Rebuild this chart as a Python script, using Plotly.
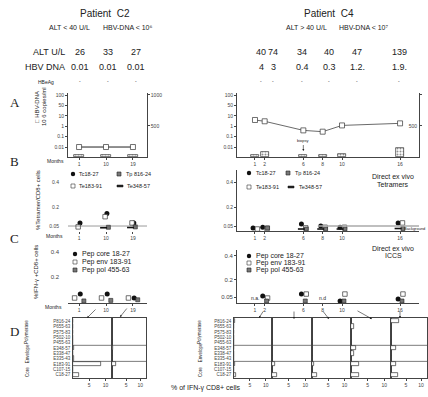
import plotly.graph_objects as go

W, H = 428, 397
FONT = "Liberation Sans, Arial, sans-serif"
SERIF = "Liberation Serif, Times New Roman, serif"
INK = "#222"

# ---------------- data ----------------
c2_months = [1, 10, 19]
c2_alt = [26, 33, 27]
c2_dna = [0.01, 0.01, 0.01]
c2_dna_text = ["0.01", "0.01", "0.01"]
c2_hbeag = ["-", "-", "-"]

c4_months = [1, 2, 6, 8, 10, 16]
c4_alt = [40, 74, 34, 40, 47, 139]
c4_dna = [4, 3, 0.4, 0.3, 1.2, 1.9]
c4_dna_text = ["4", "3", "0.4", "0.3", "1.2.", "1.9."]
c4_hbeag = ["-", "-", "-", "-", "-", "-"]

dna_tickvals = [0.01, 0.1, 1, 10, 100, 1000]
dna_ticktext = ["0.01", "0.1", "1", "10", "50", "100"]

# B: tetramer staining (% tetramer+/CD8+)
c2_tc18 = [0.075, 0.15, 0.075]
c2_te183 = [0.043, 0.125, 0.075]
c2_tp816 = [None, 0.04, 0.043]
c2_te348 = [None, 0.036, 0.038]
c4_tc18 = [0.035, 0.04, 0.067, 0.05, 0.04, 0.075]
c4_te183 = [0.026, 0.03, 0.035, 0.04, 0.04, 0.075]
c4_tp816 = [None, 0.035, 0.026, 0.026, 0.026, 0.03]
c4_te348 = [None, None, 0.026, 0.026, 0.026, 0.03]
background_level = 0.05

# C: ICCS (% IFN-g+ CD8+)
c2_core = [0.07, 0.07, 0.039]
c2_env = [0.039, 0.039, 0.039]
c2_pol = [0.016, 0.02, 0.025]
c4_core = [None, 0.059, 0.076, None, 0.017, 0.034]
c4_env = [None, 0.042, 0.076, None, 0.076, 0.076]
c4_pol = [None, 0.017, 0.017, None, 0.017, 0.017]
c4_iccs_note = ["n.a.", "", "", "n.d", "", ""]

# D: % IFN-g CD8+ cells per peptide
d_rows = ["P816-24", "P655-63", "P575-83", "P502-10", "P455-63",
          "E348-57", "E338-47", "E335-43", "E183-91", "C107-15", "C18-27"]
d_c2 = {
    10: [0, 0, 0, 0, 0, 0.4, 0, 0.4, 8.5, 0, 1.7],
    19: [0, 0, 0, 0, 0, 0.5, 0, 0, 1.5, 0, 0],
}
d_c4 = {
    2: [0.3, 0, 0, 0, 0, 0, 0, 0, 0.4, 0, 0.5],
    6: [0, 0, 0, 0, 0, 0, 0, 0, 0.9, 0, 1.6],
    8: [0, 0, 0, 0, 0, 0, 0, 0, 0.7, 0, 1.6],
    10: [0, 0.8, 0, 0, 0, 1.4, 1.0, 0, 2.4, 0, 2.4],
    16: [2.6, 0, 0, 0, 0, 1.6, 0, 0, 1.6, 0, 2.3],
}
d_groups = [("Polymerase", 8), ("Envelope", 4), ("Core", 0.5)]

# header column pixel positions (layout only)
c2_header_px = [80, 108, 136]
c4_header_px = [261, 273, 302, 329, 357, 399]


def fx(px):
    return px / W


def fy(py):
    return 1 - py / H


base = dict(showgrid=False, zeroline=False, showline=True, linecolor="#444",
            linewidth=0.7, ticks="outside", ticklen=2, tickwidth=0.6,
            tickcolor="#444", tickfont=dict(size=5, color="#444", family=FONT))


def ax(**kw):
    d = dict(base)
    d.update(kw)
    return d


XL = [fx(68), fx(147)]
XR = [fx(237), fx(419)]
XL_RANGE = [-2.7, 23.7]
XR_RANGE = [-0.86, 17.96]

layout = dict(width=W, height=H, margin=dict(l=0, r=0, t=0, b=0),
              paper_bgcolor="white", plot_bgcolor="rgba(0,0,0,0)",
              showlegend=False, font=dict(family=FONT, color=INK),
              bargap=0)

# A axes
ya_dom = [fy(157), fy(93)]
layout["xaxis"] = ax(domain=XL, range=XL_RANGE, anchor="y", tickvals=c2_months)
layout["yaxis"] = ax(domain=ya_dom, type="log", range=[-2.96, 3.2], anchor="x",
                     tickvals=dna_tickvals, ticktext=dna_ticktext)
layout["yaxis2"] = ax(overlaying="y", side="right", anchor="x", range=[0, 1032],
                      tickvals=[500, 1000], ticktext=["500", "1000"])
layout["xaxis2"] = ax(domain=XR, range=XR_RANGE, anchor="y3", tickvals=c4_months)
layout["yaxis3"] = ax(domain=ya_dom, type="log", range=[-2.96, 3.2], anchor="x2",
                      tickvals=dna_tickvals, ticktext=dna_ticktext)
layout["yaxis4"] = ax(overlaying="y3", side="right", anchor="x2", range=[0, 1032],
                      tickvals=[500, 1000], ticktext=["500", "1000"],
                      ticklabelposition="inside")
# B axes
yb_dom = [fy(231), fy(170)]
layout["xaxis3"] = ax(domain=XL, range=XL_RANGE, anchor="y5", tickvals=c2_months,
                      showline=False)
layout["yaxis5"] = ax(domain=yb_dom, range=[0.01, 0.5], anchor="x3",
                      tickvals=[0.05, 0.2, 0.4], ticktext=["0.05", "0.2", "0.4"],
                      showline=False, ticks="", ticklabelstandoff=8)
layout["xaxis4"] = ax(domain=XR, range=XR_RANGE, anchor="y6", tickvals=c4_months)
layout["yaxis6"] = ax(domain=yb_dom, range=[0.01, 0.5], anchor="x4",
                      tickvals=[0.05, 0.2, 0.4], ticktext=["0.05", "0.2", "0.4"])
# C axes
layout["xaxis5"] = ax(domain=XL, range=XL_RANGE, anchor="y7", tickvals=c2_months)
layout["yaxis7"] = ax(domain=[fy(303), fy(245)], range=[0, 0.45], anchor="x5",
                      tickvals=[0.2, 0.4], showline=False, ticks="",
                      ticklabelstandoff=8, tickfont=dict(size=6, color="#444", family=FONT))
layout["xaxis6"] = ax(domain=XR, range=XR_RANGE, anchor="y8", tickvals=c4_months)
layout["yaxis8"] = ax(domain=[fy(303), fy(250)], range=[0, 0.45], anchor="x6",
                      tickvals=[0.05, 0.2, 0.4], ticktext=["0.05", "0.2", "0.4"],
                      tickfont=dict(size=6, color="#444", family=FONT))

# D axes
d_panels = [(d_c2[10], 73, 112), (d_c2[19], 112, 146),
            (d_c4[2], 234, 272), (d_c4[6], 272, 312), (d_c4[8], 312, 351),
            (d_c4[10], 351, 391), (d_c4[16], 391, 427)]
yd_dom = [fy(378), fy(318)]
cat_order = list(reversed(d_rows))

traces = []
shapes = []
annotations = []

for i, (vals, x0, x1) in enumerate(d_panels):
    xn = 7 + i
    yn = 9 + i
    show_lbl = i in (0, 2)
    layout[f"xaxis{xn}"] = ax(domain=[fx(x0), fx(x1)], range=[0, 12], anchor=f"y{yn}",
                              tickvals=[5, 10], ticktext=["5", "10"], mirror=True,
                              tickfont=dict(size=5, color="#444", family=FONT))
    layout[f"yaxis{yn}"] = ax(domain=yd_dom, type="category", categoryorder="array",
                              categoryarray=cat_order, range=[-0.6, 10.6],
                              anchor=f"x{xn}", mirror=True, ticks="",
                              showticklabels=show_lbl,
                              tickfont=dict(size=4.5, color="#444", family=FONT),
                              ticklabelstandoff=1)
    traces.append(go.Bar(x=vals, y=d_rows, orientation="h", xaxis=f"x{xn}", yaxis=f"y{yn}",
                         width=0.85, marker=dict(color="white", line=dict(color="#333", width=0.7)),
                         hoverinfo="x+y"))
    for ysep in (2.5, 5.5):
        shapes.append(dict(type="line", xref=f"x{xn} domain", yref=f"y{yn}", x0=0, x1=1,
                           y0=ysep, y1=ysep, line=dict(color="#444", width=0.7)))

# A traces
bar_pattern = dict(shape=".", fgcolor="#222", bgcolor="white", size=3, solidity=0.35)
traces.append(go.Bar(x=c2_months, y=c2_alt, xaxis="x", yaxis="y2", width=3.3,
                     marker=dict(color="white", line=dict(color="#333", width=0.7),
                                 pattern=bar_pattern)))
traces.append(go.Scatter(x=c2_months, y=c2_dna, xaxis="x", yaxis="y", mode="lines+markers",
                         line=dict(color="#222", width=1),
                         marker=dict(symbol="square", size=5, color="white",
                                     line=dict(color="#333", width=0.7))))
traces.append(go.Bar(x=c4_months, y=c4_alt, xaxis="x2", yaxis="y4", width=0.85,
                     marker=dict(color="white", line=dict(color="#333", width=0.7),
                                 pattern=bar_pattern)))
traces.append(go.Scatter(x=c4_months, y=c4_dna, xaxis="x2", yaxis="y3", mode="lines+markers",
                         line=dict(color="#444", width=0.8),
                         marker=dict(symbol="square", size=5, color="white",
                                     line=dict(color="#333", width=0.7))))


def pts(months, vals, off):
    xs = [m + off for m, v in zip(months, vals) if v is not None]
    ys = [v for v in vals if v is not None]
    return xs, ys


m_filled = dict(symbol="circle", size=5, color="#111")
m_open = dict(symbol="square", size=4.5, color="white", line=dict(color="#333", width=0.7))
m_hatch = dict(symbol="square", size=4, color="#777", line=dict(color="#222", width=0.6))
m_dash = dict(symbol="line-ew", size=5, color="#111", line=dict(color="#111", width=1.6))


def add_series(months, vals, off, marker, xa, ya):
    xs, ys = pts(months, vals, off)
    traces.append(go.Scatter(x=xs, y=ys, xaxis=xa, yaxis=ya, mode="markers", marker=marker))


# B
add_series(c2_months, c2_tc18, 0.3, m_filled, "x3", "y5")
add_series(c2_months, c2_te183, -0.3, m_open, "x3", "y5")
add_series(c2_months, c2_tp816, 0.8, m_hatch, "x3", "y5")
add_series(c2_months, c2_te348, -0.8, m_dash, "x3", "y5")
add_series(c4_months, c4_tc18, -0.2, m_filled, "x4", "y6")
add_series(c4_months, c4_te183, 0.25, m_open, "x4", "y6")
add_series(c4_months, c4_tp816, 0.3, m_hatch, "x4", "y6")
add_series(c4_months, c4_te348, -0.2, m_dash, "x4", "y6")
# C
add_series(c2_months, c2_core, 0.4, m_filled, "x5", "y7")
add_series(c2_months, c2_env, -1.5, m_open, "x5", "y7")
add_series(c2_months, c2_pol, 1.6, m_hatch, "x5", "y7")
add_series(c4_months, c4_core, -0.2, m_filled, "x6", "y8")
add_series(c4_months, c4_env, 0.3, m_open, "x6", "y8")
add_series(c4_months, c4_pol, 0.2, m_hatch, "x6", "y8")

# background lines in B
shapes.append(dict(type="line", xref="x3 domain", yref="y5", x0=0, x1=1,
                   y0=background_level, y1=background_level, line=dict(color="#555", width=0.6)))
shapes.append(dict(type="line", xref="x4", yref="y6", x0=7.5, x1=XR_RANGE[1] + 0.6,
                   y0=background_level, y1=background_level, line=dict(color="#aaa", width=1.5)))


def ann(text, x, y, size=6, xanchor="center", family=FONT, **kw):
    d = dict(text=text, x=fx(x), y=fy(y), xref="paper", yref="paper", showarrow=False,
             xanchor=xanchor, yanchor="middle", font=dict(size=size, family=family, color=INK))
    d.update(kw)
    annotations.append(d)


# titles
ann("Patient  C2", 105, 14, 10)
ann("ALT < 40 U/L", 69, 27, 7)
ann("HBV-DNA < 10\u2076", 128, 27, 7)
ann("Patient  C4", 329, 14, 10)
ann("ALT > 40 U/L", 306, 27, 7)
ann("HBV-DNA < 10\u2077", 363, 27, 7)
ann("ALT U/L", 67, 52, 9, xanchor="right")
ann("HBV DNA", 67, 67, 9, xanchor="right")
ann("HBeAg", 46, 82, 5)


def row_vals(texts, xs_px, y, size):
    for t, xp in zip(texts, xs_px):
        if str(t) == "":
            continue
        ann(str(t), xp, y, size)


row_vals(c2_alt, c2_header_px, 52, 9)
row_vals(c2_dna_text, c2_header_px, 67, 9)
row_vals(c2_hbeag, c2_header_px, 81, 5)
row_vals(c4_alt, c4_header_px, 52, 9)
row_vals(c4_dna_text, c4_header_px, 67, 9)
row_vals(c4_hbeag, c4_header_px, 81, 5)

for t, m in zip(c4_iccs_note, c4_months):
    if t:
        annotations.append(dict(text=t, x=m, xref="x6", y=fy(298), yref="paper",
                                showarrow=False, xanchor="center", yanchor="middle",
                                font=dict(size=5, family=FONT, color=INK)))

# panel letters
for letter, yy in (("A", 102), ("B", 161), ("C", 238), ("D", 331)):
    ann(letter, 15, yy, 13, family=SERIF)

# axis titles
ann("□ HBV-DNA", 37, 107, 6, textangle=-90)
ann("10 6 copies/ml", 44, 107, 6, textangle=-90)
ann("%Tetramer/CD8+ cells", 38, 200, 6, textangle=-90)
ann("%IFN-γ +CD8+ cells", 36, 272, 6, textangle=-90)
ann("Months", 56, 161, 5)
ann("Months", 55, 236, 5)
ann("Months", 54, 307, 5)


def leg_marker(kind, cx, cy):
    if kind == "filled":
        r = 2.2
        shapes.append(dict(type="circle", xref="paper", yref="paper",
                           x0=fx(cx - r), x1=fx(cx + r), y0=fy(cy + r), y1=fy(cy - r),
                           fillcolor="#111", line=dict(width=0)))
        return
    if kind == "dash":
        hw, hh, fill, lc = 3, 0.9, "#111", "#111"
    elif kind == "hatch":
        hw, hh, fill, lc = 2, 2, "#777", "#222"
    else:
        hw, hh, fill, lc = 2, 2, "white", "#333"
    shapes.append(dict(type="rect", xref="paper", yref="paper",
                       x0=fx(cx - hw), x1=fx(cx + hw), y0=fy(cy + hh), y1=fy(cy - hh),
                       fillcolor=fill, line=dict(color=lc, width=0.6)))


# legends B
for (k, t, mx, tx, yy) in (("filled", "Tc18-27", 73, 77, 174), ("hatch", "Tp 816-24", 119, 124, 174),
                           ("open", "Te183-91", 73, 77, 186), ("dash", "Te348-57", 120, 125, 186),
                           ("filled", "Tc18-27", 249, 254, 173), ("hatch", "Tp 816-24", 288, 293, 173),
                           ("open", "Te183-91", 249, 254, 187), ("dash", "Te348-57", 291, 297, 187)):
    leg_marker(k, mx, yy)
    ann(t, tx, yy, 5.5, xanchor="left")
# legends C
for (k, t, mx, tx, yy) in (("filled", "Pep core 18-27", 75, 80, 254), ("open", "Pep env 183-91", 75, 80, 262),
                           ("hatch", "Pep pol 455-63", 75, 80, 270),
                           ("filled", "Pep core 18-27", 249, 254, 256), ("open", "Pep env 183-91", 249, 254, 263),
                           ("hatch", "Pep pol 455-63", 249, 254, 270)):
    leg_marker(k, mx, yy)
    ann(t, tx, yy, 7, xanchor="left")

ann("Direct ex vivo", 393, 176, 7)
ann("Tetramers", 393, 184, 7)
ann("Background", 414, 229, 4)
ann("Direct ex vivo", 393, 248, 7)
ann("ICCS", 393, 255, 7)
ann("% of IFN-γ CD8+ cells", 206, 388, 7)

# D group labels
for side_x in (27, 200):
    for name, pos in d_groups:
        annotations.append(dict(text=name, x=fx(side_x), xref="paper",
                                y=fy(378 - (pos + 0.6) * 60 / 11.2), yref="paper",
                                showarrow=False, textangle=-90, xanchor="center", yanchor="middle",
                                font=dict(size=4.5, family=FONT, color=INK)))

# biopsy arrow in A right
annotations.append(dict(text="biopsy", x=6, xref="x2", y=fy(151), yref="paper",
                        showarrow=True, ax=0, ay=-10, arrowhead=2, arrowsize=0.7,
                        arrowwidth=0.6, arrowcolor="#222",
                        font=dict(size=4, family=FONT, color=INK)))

# arrows C -> D
for (hx, hy, tx, ty) in ((87, 318, 97, 308), (120, 317, 128, 307),
                         (259, 318, 264, 310), (294, 319, 294, 310), (329, 319, 322, 310),
                         (372, 319, 356, 310), (400, 318, 400, 310)):
    annotations.append(dict(text="", x=fx(hx), y=fy(hy), xref="paper", yref="paper",
                            showarrow=True, ax=tx - hx, ay=ty - hy, arrowhead=2,
                            arrowsize=0.7, arrowwidth=0.6, arrowcolor="#222"))

layout["shapes"] = shapes
layout["annotations"] = annotations

fig = go.Figure(data=traces, layout=layout)
fig.write_html("out.html")
